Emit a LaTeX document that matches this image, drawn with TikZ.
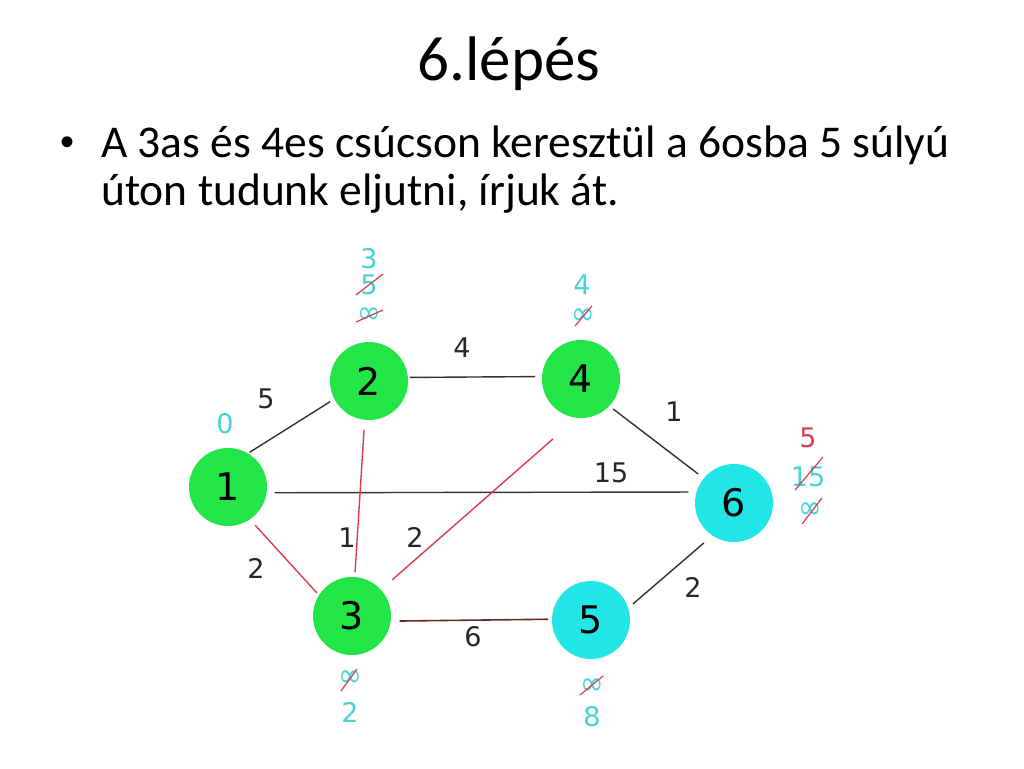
\documentclass[tikz,border=0pt]{standalone}
\usepackage{fontspec}
\setmainfont{Carlito}
\newfontfamily\gfont{DejaVu Sans}
\newfontfamily\bfont{Liberation Sans}
\usetikzlibrary{calc}
\definecolor{vgreen}{RGB}{34,230,72}
\definecolor{vcyan}{RGB}{34,230,230}
\definecolor{dcyan}{RGB}{70,212,212}
\definecolor{sred}{RGB}{220,60,80}
\definecolor{egray}{RGB}{50,50,50}
\definecolor{edark}{RGB}{105,40,40}
\newcommand{\infsym}{\scalebox{1.05}[1.2]{∞}}
\begin{document}
\begin{tikzpicture}[x=1pt,y=1pt,
  vtx/.style={circle, minimum size=78pt, inner sep=0pt, font=\gfont\fontsize{38}{40}\selectfont},
  gv/.style={vtx, fill=vgreen},
  cv/.style={vtx, fill=vcyan},
  elab/.style={font=\gfont\fontsize{27}{28}\selectfont, text=black!85, inner sep=0pt},
  dlab/.style={font=\gfont\fontsize{27}{28}\selectfont, text=dcyan, inner sep=0pt},
  inf/.style={dlab, font=\gfont\fontsize{27}{28}\selectfont},
  edge/.style={draw=egray, line width=1.4pt},
  redge/.style={draw=sred, line width=1.4pt},
  dedge/.style={draw=edark, line width=1.6pt},
  strike/.style={draw=sred, line width=1.2pt}]
\useasboundingbox (0,0) rectangle (1024,-768);
\fill[white] (0,0) rectangle (1024,-768);

% title and text
\node[anchor=base, inner sep=0pt, font=\fontsize{63}{70}\selectfont] (title) at (509,-81) {6.lépés};
\node[anchor=base, inner sep=0pt, font=\bfont\fontsize{40}{44}\selectfont] (bul) at (68,-155) {•};
\node[anchor=base west, inner sep=0pt, font=\fontsize{45.5}{50}\selectfont] (l1) at (101,-157) {A 3as és 4es csúcson keresztül a 6osba 5 súlyú};
\node[anchor=base west, inner sep=0pt, font=\fontsize{45.5}{50}\selectfont] (l2) at (101,-205) {úton tudunk eljutni, írjuk át.};

% vertices
\node[gv] (n1) at (228,-487) {1};
\node[gv] (n2) at (369,-381) {2};
\node[gv] (n4) at (581,-379) {4};
\node[cv] (n6) at (734,-503) {6};
\node[gv] (n3) at (352,-616) {3};
\node[cv] (n5) at (591,-620) {5};

% edges
\draw[edge]  ($(n1)+(58:41)$) -- ($(n2)+(208:44)$);
\draw[edge]  ($(n2)+(5:41)$) -- ($(n4)+(177:46)$);
\draw[edge]  ($(n4)+(-43:44)$) -- ($(n6)+(141:46)$);
\draw[edge]  ($(n1)+(-7:47)$) -- ($(n6)+(166.5:47)$);
\draw[redge] ($(n1)+(-54.6:47)$) -- ($(n3)+(146.7:42)$);
\draw[redge] ($(n2)+(-95.8:49)$) -- ($(n3)+(86:44)$);
\draw[redge] ($(n4)+(-115:66)$) -- ($(n3)+(42:54)$);
\draw[dedge] ($(n3)+(-6:48)$) -- ($(n5)+(179:43)$);
\draw[edge]  ($(n5)+(21:45)$) -- ($(n6)+(-127:50)$);

% edge weights
\node[elab] (w12) at (266,-399) {5};
\node[elab] (w24) at (462,-348) {4};
\node[elab] (w46) at (674,-412) {1};
\node[elab] (w16) at (611,-473) {15};
\node[elab] (w23) at (347,-538) {1};
\node[elab] (w43) at (415,-537) {2};
\node[elab] (w13) at (256,-568) {2};
\node[elab] (w35) at (473,-637) {6};
\node[elab] (w56) at (693,-587) {2};

% distance labels
\node[dlab] (d1) at (225,-424) {0};
\node[dlab] (d2a) at (369,-259) {3};
\node[dlab] (d2b) at (369,-285) {5};
\node[inf] (d2c) at (369,-316) {\infsym};
\node[dlab] (d4a) at (582,-285) {4};
\node[inf] (d4b) at (583,-317) {\infsym};
\node[dlab, text=sred] (d6a) at (808,-438) {5};
\node[dlab] (d6b) at (808,-477) {15};
\node[inf] (d6c) at (810,-511) {\infsym};
\node[inf] (d3a) at (350,-679) {\infsym};
\node[dlab] (d3b) at (350,-712) {2};
\node[inf] (d5a) at (592,-687) {\infsym};
\node[dlab] (d5b) at (592,-717) {8};

% strike-throughs
\draw[strike] ($(d2b)+(-13,-10)$) -- ($(d2b)+(14,11)$);
\draw[strike] ($(d2c)+(-13,-6)$) -- ($(d2c)+(14,6)$);
\draw[strike] ($(d4b)+(-8,-9)$) -- ($(d4b)+(9,11)$);
\draw[strike] ($(d6b)+(-13,-13)$) -- ($(d6b)+(15,20)$);
\draw[strike] ($(d6c)+(-8,-13)$) -- ($(d6c)+(12,13)$);
\draw[strike] ($(d3a)+(-9,-12)$) -- ($(d3a)+(7,10)$);
\draw[strike] ($(d5a)+(-12,-8)$) -- ($(d5a)+(11,11)$);
\end{tikzpicture}
\end{document}
